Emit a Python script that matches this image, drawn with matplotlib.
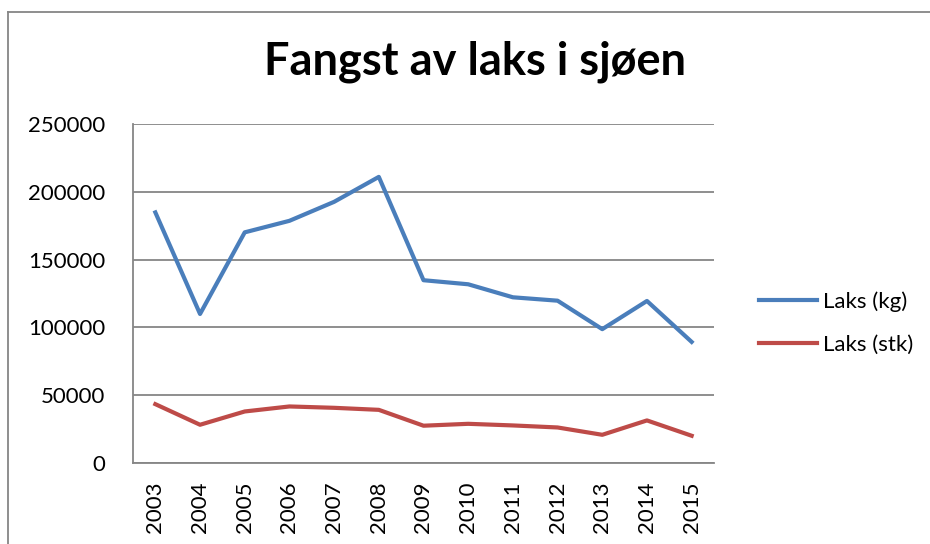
import matplotlib
matplotlib.use("Agg")
import matplotlib.pyplot as plt
from matplotlib.lines import Line2D

years = ["2003", "2004", "2005", "2006", "2007", "2008", "2009",
         "2010", "2011", "2012", "2013", "2014", "2015"]
laks_kg = [184800, 109900, 170100, 178600, 192600, 211000, 134800,
           131800, 122200, 119700, 98700, 119500, 89300]
laks_stk = [43400, 28200, 38000, 41700, 40700, 39200, 27500,
            28900, 27700, 26200, 20800, 31400, 20100]
yticks = [0, 50000, 100000, 150000, 200000, 250000]

plt.rcParams['font.family'] = ['Lato', 'DejaVu Sans']

W, H = 930, 544
fig = plt.figure(figsize=(W / 100, H / 100), dpi=100)
ax = fig.add_axes([133 / W, 1 - 463 / H, (714 - 133) / W, (463 - 124) / H])

x = range(len(years))
ax.plot(x, laks_kg, color='#4A7EBB', lw=3, label='Laks (kg)', solid_joinstyle='round')
ax.plot(x, laks_stk, color='#BE4B48', lw=3, label='Laks (stk)', solid_joinstyle='round')

ax.set_xlim(-0.5, len(years) - 0.5)
ax.set_ylim(0, 250000)
ax.set_yticks(yticks)
ax.set_yticklabels([str(v) for v in yticks], fontsize=16)
ax.set_xticks(list(x))
ax.set_xticklabels(years, rotation=90, fontsize=16)
ax.tick_params(axis='y', length=0, pad=20)
ax.tick_params(axis='x', length=0, pad=13)

ax.grid(axis='y', color='#868686', lw=1.3)
ax.set_axisbelow(True)
for s in ['top', 'right']:
    ax.spines[s].set_visible(False)
for s in ['left', 'bottom']:
    ax.spines[s].set_color('#868686')
    ax.spines[s].set_linewidth(1.3)

fig.text(475 / W, 1 - 62 / H, 'Fangst av laks i sjøen', fontsize=32.5,
         fontweight='bold', ha='center', va='center')

leg = ax.legend(loc='center left', bbox_to_anchor=(750 / W, 1 - 323 / H),
                bbox_transform=fig.transFigure, frameon=False, fontsize=16,
                handlelength=2.6, handletextpad=0.3, labelspacing=1.0,
                borderaxespad=0)

# chart border (top and left edges only are visible)
top = 1 - 12 / H
left = 8 / W
fig.add_artist(Line2D([left, 1.0], [top, top], transform=fig.transFigure,
                      color='#868686', lw=1.3))
fig.add_artist(Line2D([left, left], [0.0, top], transform=fig.transFigure,
                      color='#868686', lw=1.3))

fig.savefig('out.png', dpi=100)
